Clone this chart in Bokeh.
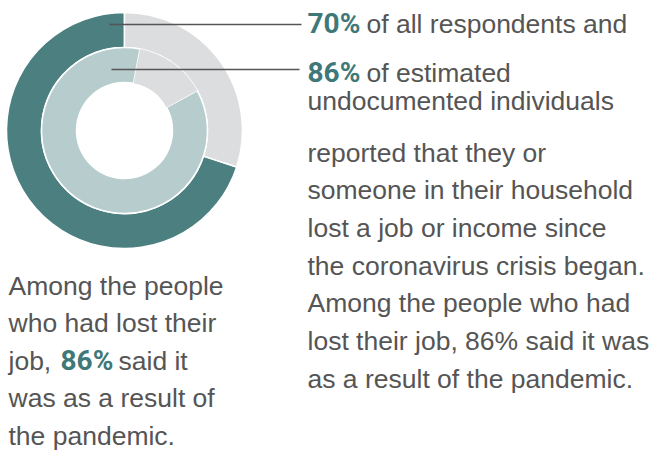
import math
from bokeh.plotting import figure
from bokeh.models import Range1d
from bokeh.embed import file_html
from bokeh.resources import INLINE
from bokeh.core.properties import value

# ---- data ----
ring_labels = ["Lost job or income", "Did not"]
all_respondents = [70, 30]
undocumented = [86, 14]
pandemic_share = 86

# ---- style ----
TEAL_DARK = "#4b7f80"
TEAL_LIGHT = "#b7cdcd"
GRAY = "#dcdddf"
TEXT = "#555555"
TEAL_TEXT = "#3f7878"
BODY_FONT = value("Liberation Sans")
BOLD_FONT = value("Roboto")
BODY_SIZE = "26.5px"
BOLD_SIZE = "28px"
TEXT_DY = -10

W, H = 660, 452
p = figure(width=W, height=H, output_backend="svg", toolbar_location=None,
           x_range=Range1d(0, W), y_range=Range1d(0, H), min_border=0)
p.axis.visible = False
p.grid.visible = False
p.outline_line_color = None
p.background_fill_color = "white"
p.border_fill_color = "white"


def Y(ry):
    return H - ry


CX, CY = 124, Y(130)
R_OUT, R_MID, R_IN = 118, 83, 48


def ring(values, colors, r0, r1, rot, line_flags):
    total = float(sum(values))
    start = math.pi / 2 - rot
    for v, c, lf in zip(values, colors, line_flags):
        end = start + v / total * 2 * math.pi
        p.annular_wedge(x=CX, y=CY, inner_radius=r0, outer_radius=r1,
                        start_angle=start, end_angle=end, direction="anticlock",
                        fill_color=c, line_color="white" if lf else None,
                        line_width=1.5)
        start = end


ring(all_respondents, [TEAL_DARK, GRAY], R_MID, R_OUT, 0.0, [True, True])
ring(undocumented, [TEAL_LIGHT, GRAY], R_IN, R_MID, 0.03 * 2 * math.pi, [True, False])

# leader lines
p.segment(x0=[109, 111], y0=[Y(24), Y(69)], x1=[301, 299], y1=[Y(24), Y(69)],
          line_color="#555555", line_width=1.5)


def txt(x, ry, s, bold=False):
    p.text(x=[x], y=[Y(ry + TEXT_DY)], text=[s], text_baseline="alphabetic", text_align="left",
           text_font=BOLD_FONT if bold else BODY_FONT,
           text_font_size=BOLD_SIZE if bold else BODY_SIZE,
           text_font_style="bold" if bold else "normal",
           text_color=TEAL_TEXT if bold else TEXT)


# right block
txt(307, 33, f"{all_respondents[0]}%", bold=True)
txt(366, 33, "of all respondents and")
txt(307, 82, f"{undocumented[0]}%", bold=True)
txt(366, 82, "of estimated")
txt(307, 110, "undocumented individuals")
right_lines = [
    "reported that they or",
    "someone in their household",
    "lost a job or income since",
    "the coronavirus crisis began.",
    "Among the people who had",
    f"lost their job, {pandemic_share}% said it was",
    "as a result of the pandemic.",
]
for i, s in enumerate(right_lines):
    txt(307, 162 + 37.7 * i, s)

# left block
lb = [295 + 37.5 * i for i in range(5)]
txt(8, lb[0], "Among the people")
txt(8, lb[1], "who had lost their")
txt(8, lb[2], "job,")
txt(60, lb[2], f"{pandemic_share}%", bold=True)
txt(118, lb[2], "said it")
txt(8, lb[3], "was as a result of")
txt(8, lb[4], "the pandemic.")

open("out.html", "w").write(file_html(p, INLINE))
